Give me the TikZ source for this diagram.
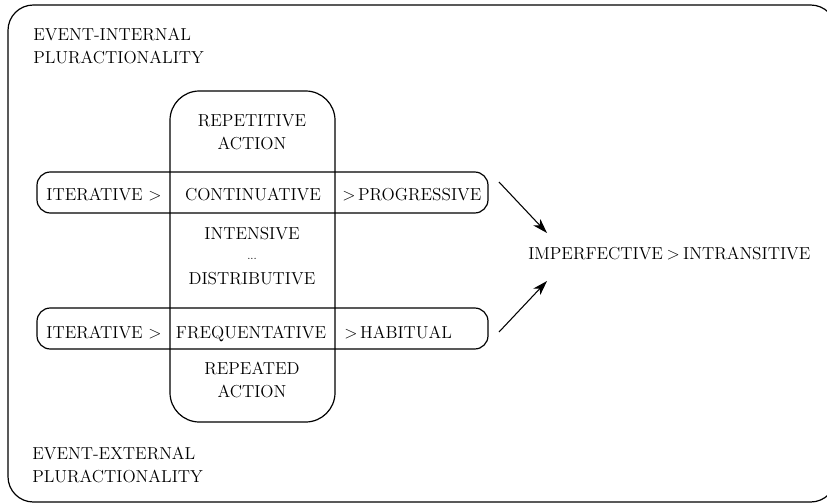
\documentclass[tikz,border=0pt]{standalone}
\usepackage{tikz}
\usetikzlibrary{arrows.meta}

\tikzset{
  lbl/.style={font=\fontsize{13}{17}\selectfont, align=center, inner sep=0pt},
  frame/.style={draw, line width=0.9pt},
  arr/.style={-{Stealth[length=11pt,width=7pt,inset=3pt]}, line width=0.8pt}
}

\begin{document}
\begin{tikzpicture}[x=0.75pt,y=-0.75pt]
  \useasboundingbox (0,0) rectangle (827,503);
  \begin{scope}
    \clip (0,0) rectangle (827,503);
    \draw[frame, rounded corners=19pt] (8,5) rectangle (836,502);
  \end{scope}

  \draw[frame, rounded corners=22pt] (170,91) rectangle (335,422);
  \draw[frame, rounded corners=10pt] (37,172) rectangle (488,213);
  \draw[frame, rounded corners=10pt] (37,308) rectangle (488,349);

  \node[lbl, anchor=west, align=left] (internal) at (33,46) {EVENT-INTERNAL\\PLURACTIONALITY};
  \node[lbl, anchor=west, align=left] (external) at (32,465) {EVENT-EXTERNAL\\PLURACTIONALITY};

  \node[lbl] (repetitive) at (252,132.5) {REPETITIVE\\ACTION};
  \node[lbl, anchor=base] (iter1) at (104,200) {ITERATIVE >};
  \node[lbl, anchor=base] (cont) at (253,200) {CONTINUATIVE};
  \node[lbl, anchor=base west] (prog) at (342,200) {>\hspace{0.15em}PROGRESSIVE};
  \node[lbl] (intens) at (252,256) {INTENSIVE\\\raisebox{0.3ex}{\footnotesize...}\\DISTRIBUTIVE};
  \node[lbl, anchor=base] (iter2) at (104,338) {ITERATIVE >};
  \node[lbl, anchor=base] (freq) at (251,338) {FREQUENTATIVE};
  \node[lbl, anchor=base west] (hab) at (344,338) {>\hspace{0.15em}HABITUAL};
  \node[lbl] (repeated) at (252,380) {REPEATED\\ACTION};

  \node[lbl, anchor=base west] (imp) at (528,259) {IMPERFECTIVE\hspace{0.2em}>\hspace{0.2em}INTRANSITIVE};

  \coordinate (s1) at (499,182);
  \coordinate (e1) at (547,233);
  \coordinate (s2) at (499,332);
  \coordinate (e2) at (547,281);
  \draw[arr] (s1) -- (e1);
  \draw[arr] (s2) -- (e2);
\end{tikzpicture}
\end{document}
